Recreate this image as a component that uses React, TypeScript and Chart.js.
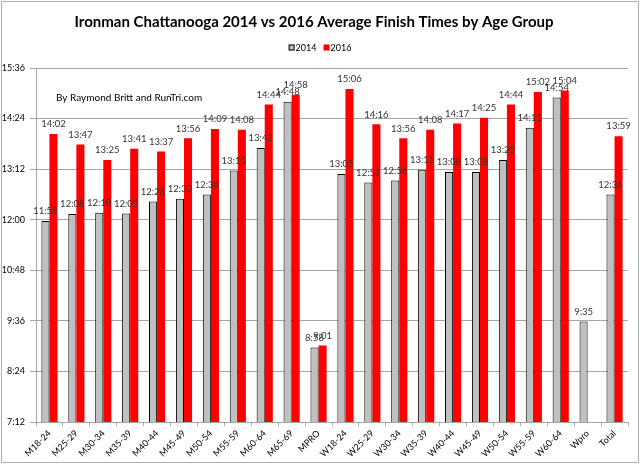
import React, { useEffect, useRef } from "react";
import { Chart, registerables } from "chart.js";

Chart.register(...registerables);

const categories = [
  "M18-24", "M25-29", "M30-34", "M35-39", "M40-44", "M45-49", "M50-54", "M55-59",
  "M60-64", "M65-69", "MPRO", "W18-24", "W25-29", "W30-34", "W35-39", "W40-44",
  "W45-49", "W50-54", "W55-59", "W60-64", "Wpro", "Total",
];

const times2014 = [
  "11:58", "12:08", "12:10", "12:09", "12:26", "12:30", "12:36", "13:10",
  "13:42", "14:48", "8:58", "13:05", "12:53", "12:56", "13:11", "13:08",
  "13:08", "13:25", "14:11", "14:54", "9:35", "12:36",
];

const times2016: (string | null)[] = [
  "14:02", "13:47", "13:25", "13:41", "13:37", "13:56", "14:09", "14:08",
  "14:44", "14:58", "9:01", "15:06", "14:16", "13:56", "14:08", "14:17",
  "14:25", "14:44", "15:02", "15:04", null, "13:59",
];

const yMinLabel = "7:12";
const yMaxLabel = "15:36";
const yStepLabel = "1:12";

const toMin = (t: string | null) => {
  if (t == null) return null;
  const [h, m] = t.split(":").map(Number);
  return h * 60 + m;
};
const fmt = (v: number) => {
  const h = Math.floor(v / 60);
  const m = Math.round(v - h * 60);
  return `${h}:${m < 10 ? "0" : ""}${m}`;
};

const FONT = "Lato, 'Liberation Sans', sans-serif";

export default function App() {
  const ref = useRef<HTMLCanvasElement | null>(null);
  useEffect(() => {
    if (!ref.current) return;
    const labelPlugin = {
      id: "valueLabels",
      afterDatasetsDraw(chart: any) {
        const ctx = chart.ctx;
        ctx.save();
        ctx.font = `9.5px ${FONT}`;
        ctx.fillStyle = "#333333";
        ctx.textAlign = "center";
        ctx.textBaseline = "bottom";
        chart.data.datasets.forEach((ds: any, di: number) => {
          const meta = chart.getDatasetMeta(di);
          meta.data.forEach((el: any, i: number) => {
            const v = ds.data[i];
            if (v == null) return;
            ctx.fillText(fmt(v), el.x, el.y - 5);
          });
        });
        ctx.restore();
      },
    };
    const decorPlugin = {
      id: "decor",
      afterDraw(chart: any) {
        const ctx = chart.ctx;
        const area = chart.chartArea;
        ctx.save();
        // outer frame
        ctx.strokeStyle = "#b0b0b0";
        ctx.lineWidth = 1;
        ctx.strokeRect(1.5, 1.5, chart.width - 3, chart.height - 3);
        // author note
        ctx.font = `10px ${FONT}`;
        ctx.fillStyle = "#000";
        ctx.textAlign = "left";
        ctx.textBaseline = "middle";
        ctx.fillText("By Raymond Britt and RunTri.com", area.left + 20, area.top + 30);
        // legend
        ctx.font = `9px ${FONT}`;
        const items = chart.data.datasets.map((ds: any) => ({
          text: ds.label,
          fill: ds.backgroundColor,
          stroke: ds.borderWidth ? ds.borderColor : null,
        }));
        const box = 6, gap = 1, space = 7;
        const widths = items.map((it: any) => box + gap + ctx.measureText(it.text).width);
        const total = widths.reduce((a: number, b: number) => a + b, 0) + space * (items.length - 1);
        let x = chart.width / 2 - total / 2;
        const y = 47.5;
        items.forEach((it: any, i: number) => {
          ctx.fillStyle = it.fill;
          ctx.fillRect(x, y - box / 2, box, box);
          if (it.stroke) {
            ctx.strokeStyle = it.stroke;
            ctx.strokeRect(x + 0.5, y - box / 2 + 0.5, box - 1, box - 1);
          }
          ctx.fillStyle = "#000";
          ctx.fillText(it.text, x + box + gap, y + 0.5);
          x += widths[i] + space;
        });
        ctx.restore();
      },
    };

    const chart = new Chart(ref.current, {
      type: "bar",
      data: {
        labels: categories,
        datasets: [
          {
            label: "2014",
            data: times2014.map(toMin),
            backgroundColor: "#c0c0c0",
            borderColor: "#000000",
            borderWidth: 1,
            borderSkipped: "bottom",
            categoryPercentage: 0.6,
            barPercentage: 1.0,
          },
          {
            label: "2016",
            data: times2016.map(toMin),
            backgroundColor: "#ff0000",
            borderWidth: 0,
            categoryPercentage: 0.6,
            barPercentage: 1.0,
          },
        ],
      },
      options: {
        animation: false,
        responsive: true,
        maintainAspectRatio: false,
        layout: { padding: { left: 0, right: 12, top: 0, bottom: 0 } },
        plugins: {
          legend: { display: false },
          tooltip: { enabled: false },
          title: {
            display: true,
            text: "Ironman Chattanooga 2014 vs 2016 Average Finish Times by Age Group",
            color: "#000",
            font: { family: FONT, size: 15, weight: "bold" },
            padding: { top: 13, bottom: 37 },
          },
        },
        scales: {
          x: {
            grid: {
              display: true,
              drawOnChartArea: false,
              drawTicks: true,
              tickLength: 4,
              color: "#a6a6a6",
            },
            border: { display: true, color: "#a6a6a6" },
            ticks: {
              color: "#000",
              font: { family: FONT, size: 9 },
              minRotation: 45,
              maxRotation: 45,
              autoSkip: false,
              padding: 2,
            },
            afterFit: (s: any) => {
              s.height = 42;
            },
          },
          y: {
            min: toMin(yMinLabel) as number,
            max: toMin(yMaxLabel) as number,
            grid: { color: "#a6a6a6", tickLength: 6 },
            border: { display: true, color: "#a6a6a6" },
            ticks: {
              stepSize: toMin(yStepLabel) as number,
              color: "#000",
              font: { family: FONT, size: 9 },
              padding: 5,
              callback: (v: any) => fmt(Number(v)),
            },
            afterFit: (s: any) => {
              s.width = 36;
            },
          },
        },
      },
      plugins: [labelPlugin, decorPlugin],
    });
    return () => chart.destroy();
  }, []);

  return (
    <div style={{ position: "absolute", left: 0, top: 0, width: 640, height: 464, background: "#fff" }}>
      <canvas ref={ref} />
    </div>
  );
}
